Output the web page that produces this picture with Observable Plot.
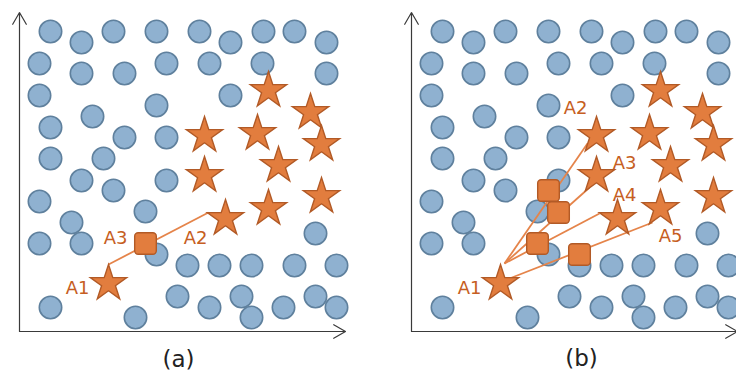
<!DOCTYPE html>
<html><head><meta charset="utf-8">
<script src="https://cdn.jsdelivr.net/npm/d3@7"></script>
<script src="https://cdn.jsdelivr.net/npm/@observablehq/plot@0.6"></script>
<style>html,body{margin:0;padding:0;background:#fff;overflow:hidden}#chart{width:736px;height:376px;overflow:hidden}#chart svg{max-width:none!important}</style>
</head><body><div id="chart"></div>
<script>
// panel names
const panels = ["(a)", "(b)"];
// blue points (same in both panels), in axis units
const circles = [
  [31,300],[94,300],[137,300],[180,300],[244,300],[275,300],
  [62,289],[211,289],[307,289],
  [20,268],[147,268],[190,268],[243,268],
  [62,258],[105,258],[307,258],
  [20,236],[211,236],[137,226],[73,215],
  [31,204],[105,194],[147,194],
  [31,173],[84,173],[62,151],[147,151],[94,141],
  [20,130],[126,120],[52,109],
  [20,88],[62,88],[137,77],[296,98],
  [168,66],[200,66],[232,66],[275,66],[317,66],
  [158,35],[222,35],[296,35],
  [31,24],[190,24],[264,24],[317,24],
  [116,14],[232,14]
];
// orange stars (same in both panels)
const stars = [
  [249,241],[291,219],[185,196],[238,198],[302,187],[259,166],
  [185,156],[302,135],[249,123],[206,113],[89,48]
];
// orange squares (synthetic points)
const squares = [
  {panel: "(a)", x: 126, y: 88},
  {panel: "(b)", x: 137, y: 141},
  {panel: "(b)", x: 147, y: 119},
  {panel: "(b)", x: 126, y: 88},
  {panel: "(b)", x: 168, y: 77}
];
// connecting segments
const segments = [
  {panel: "(a)", x1: 89, y1: 67, x2: 189, y2: 119},
  {panel: "(b)", x1: 93, y1: 68, x2: 176, y2: 188},
  {panel: "(b)", x1: 93, y1: 68, x2: 178, y2: 144},
  {panel: "(b)", x1: 93, y1: 68, x2: 188, y2: 118},
  {panel: "(b)", x1: 98, y1: 53, x2: 241, y2: 109}
];
// point labels
const labels = [
  {panel: "(a)", text: "A1", x: 58, y: 43},
  {panel: "(a)", text: "A2", x: 176, y: 93},
  {panel: "(a)", text: "A3", x: 96, y: 93},
  {panel: "(b)", text: "A1", x: 58, y: 43},
  {panel: "(b)", text: "A2", x: 164, y: 223},
  {panel: "(b)", text: "A3", x: 213, y: 168},
  {panel: "(b)", text: "A4", x: 213, y: 136},
  {panel: "(b)", text: "A5", x: 259, y: 95}
];
// axis extents
const axisLines = [
  {x1: 0, y1: 0, x2: 0, y2: 319},
  {x1: 0, y1: 0, x2: 326, y2: 0}
];

const roundedSquare = {
  draw(context, size) {
    const h = Math.sqrt(size) / 2, r = 3.5;
    context.moveTo(-h + r, -h);
    context.arcTo(h, -h, h, h, r);
    context.arcTo(h, h, -h, h, r);
    context.arcTo(-h, h, -h, -h, r);
    context.arcTo(-h, -h, h, -h, r);
    context.closePath();
  }
};

const orange = "#E27D3E", orangeDark = "#B25A26", textOrange = "#C65E22";
const font = "DejaVu Sans";

const chart = Plot.plot({
  width: 803, height: 376,
  marginLeft: 19, marginRight: 0, marginTop: 0, marginBottom: 45,
  facet: {marginTop: 0, marginRight: 0, marginBottom: 0, marginLeft: 0},
  style: {background: "#fff", fontFamily: font, maxWidth: "none"},
  x: {domain: [0, 392], axis: null},
  y: {domain: [0, 331], axis: null},
  fx: {domain: panels, padding: 0, axis: null},
  marks: [
    Plot.arrow(axisLines, {x1: "x1", y1: "y1", x2: "x2", y2: "y2", stroke: "#3a3a3a", strokeWidth: 1.2, headLength: 17, headAngle: 60}),
    Plot.dot(circles, {x: d => d[0], y: d => d[1], r: 11.2, fill: "#8FB1D0", stroke: "#5F809D", strokeWidth: 1.6}),
    Plot.link(segments, {fx: "panel", x1: "x1", y1: "y1", x2: "x2", y2: "y2", stroke: "#E5844A", strokeWidth: 1.8}),
    Plot.dot(stars, {x: d => d[0], y: d => d[1], symbol: "star", r: 11.4, fill: orange, stroke: orangeDark, strokeWidth: 1.4}),
    Plot.dot(squares, {fx: "panel", x: "x", y: "y", symbol: roundedSquare, r: 12.2, fill: orange, stroke: orangeDark, strokeWidth: 1.4}),
    Plot.text(labels, {fx: "panel", x: "x", y: "y", text: "text", fill: textOrange, fontSize: 18, fontFamily: font}),
    Plot.text([panels[0]], {fx: d => d, text: d => d, frameAnchor: "bottom", lineAnchor: "middle", dx: -37, dy: 28, fontSize: 23, fill: "#222", fontFamily: font}),
    Plot.text([panels[1]], {fx: d => d, text: d => d, frameAnchor: "bottom", lineAnchor: "middle", dx: -26, dy: 27, fontSize: 23, fill: "#222", fontFamily: font})
  ]
});
document.getElementById("chart").appendChild(chart);
</script>
</body></html>
